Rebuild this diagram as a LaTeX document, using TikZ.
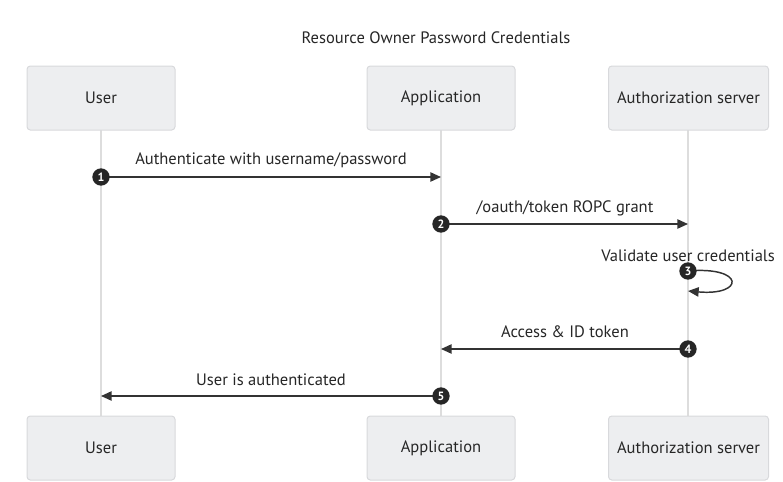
\documentclass[tikz,border=0pt]{standalone}
\usepackage{fontspec}
\setmainfont{PT Sans}
\usetikzlibrary{arrows.meta}
\definecolor{boxfill}{HTML}{EDEEF0}
\definecolor{boxline}{HTML}{D8D9DC}
\definecolor{lifeline}{HTML}{DDDDDD}
\definecolor{msg}{HTML}{333333}
\begin{document}
\begin{tikzpicture}[x=0.75pt,y=-0.75pt,
  actor/.style={draw=boxline,fill=boxfill,rounded corners=2.5pt,line width=0.75pt,minimum height=48pt,font=\fontsize{12.4}{14}\selectfont,text=black!85},
  life/.style={draw=lifeline,line width=1.5pt},
  msgline/.style={draw=msg,line width=1.1pt,-{Triangle[length=8pt,width=7pt]}},
  num/.style={circle,fill=black!85,text=white,inner sep=0pt,minimum size=13pt,font=\bfseries\fontsize{9}{9}\selectfont},
  lbl/.style={font=\fontsize{12.4}{14}\selectfont,text=black!85}]
\useasboundingbox (0,0) rectangle (783,482);
% lifelines
\coordinate (uT) at (101,130); \coordinate (uB) at (101,416);
\coordinate (aT) at (441,130); \coordinate (aB) at (441,416);
\coordinate (sT) at (688,130); \coordinate (sB) at (688,416);
\draw[life] (uT) -- (uB);
\draw[life] (aT) -- (aB);
\draw[life] (sT) -- (sB);
% actors
\node[actor,minimum width=111pt] (u1) at (101,98) {User};
\node[actor,minimum width=111pt] (a1) at (441,98) {Application};
\node[actor,minimum width=120pt] (s1) at (688.5,98) {Authorization server};
\node[actor,minimum width=111pt] (u2) at (101,448) {User};
\node[actor,minimum width=111pt] (a2) at (441,448) {Application};
\node[actor,minimum width=120pt] (s2) at (688.5,448) {Authorization server};
% title
\node[lbl] (title) at (436,38) {Resource Owner Password Credentials};
% message endpoints
\coordinate (m1a) at (101,177); \coordinate (m1b) at (441,177);
\coordinate (m2a) at (441,224); \coordinate (m2b) at (688,224);
\coordinate (m3a) at (688,271); \coordinate (m3b) at (688,291);
\coordinate (m4a) at (688,349); \coordinate (m4b) at (441,349);
\coordinate (m5a) at (441,396); \coordinate (m5b) at (101,396);
\draw[msgline] (m1a) -- (m1b);
\draw[msgline] (m2a) -- (m2b);
\draw[msgline] (m3a) .. controls (745,266) and (745,296) .. (m3b);
\draw[msgline] (m4a) -- (m4b);
\draw[msgline] (m5a) -- (m5b);
% labels
\node[lbl] (l1) at (271,160) {Authenticate with username/password};
\node[lbl] (l2) at (565,208) {/oauth/token ROPC grant};
\node[lbl] (l3) at (688,256) {Validate user credentials};
\node[lbl] (l4) at (565,332) {Access \& ID token};
\node[lbl] (l5) at (271,380) {User is authenticated};
% numbers
\node[num] (n1) at (m1a) {1};
\node[num] (n2) at (m2a) {2};
\node[num] (n3) at (m3a) {3};
\node[num] (n4) at (m4a) {4};
\node[num] (n5) at (m5a) {5};
\end{tikzpicture}
\end{document}
